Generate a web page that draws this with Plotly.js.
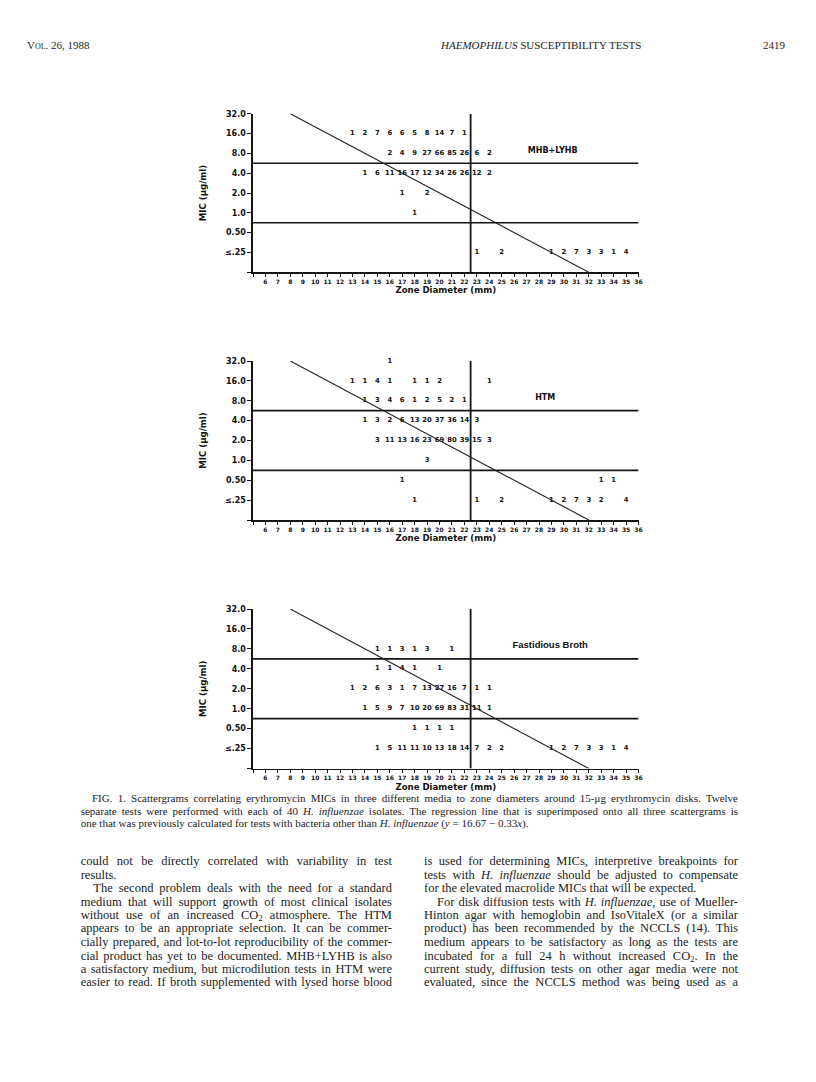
<!DOCTYPE html>
<html><head><meta charset="utf-8">
<script src="https://cdn.plot.ly/plotly-3.0.1.min.js"></script>
<style>
html,body{margin:0;padding:0;background:#fff;}
#page{position:relative;width:816px;height:1082px;overflow:hidden;background:#fff;}
#chart{position:absolute;left:0;top:0;width:816px;height:1082px;}
.ln{position:absolute;white-space:nowrap;font-family:"Liberation Serif","Times New Roman",serif;color:#1c1c1c;transform-origin:0 50%;}
.ln sub{font-size:0.7em;line-height:0;vertical-align:-0.2em;}
</style></head>
<body><div id="page"><div id="chart"></div></div>
<script>
// ---------- DATA ----------
// Zone-diameter axis ticks (mm)
const zoneTicks = [5,6,7,8,9,10,11,12,13,14,15,16,17,18,19,20,21,22,23,24,25,26,27,28,29,30,31,32,33,34,35,36];
const zoneTickText = ['','6','7','8','9','10','11','12','13','14','15','16','17','18','19','20','21','22','23','24','25','26','27','28','29','30','31','32','33','34','35','36'];
// MIC axis ticks (µg/ml)
const micTicks = [0.125,0.25,0.5,1,2,4,8,16,32];
const micTickText = ['','\u2264.25','0.50','1.0','2.0','4.0','8.0','16.0','32.0'];

// Panel 1: MHB+LYHB
const mhbZone  = [13,14,15,16,17,18,19,20,21,22,
                  16,17,18,19,20,21,22,23,24,
                  14,15,16,17,18,19,20,21,22,23,24,
                  17,19,
                  18,
                  23,25,29,30,31,32,33,34,35];
const mhbMic   = [16,16,16,16,16,16,16,16,16,16,
                  8,8,8,8,8,8,8,8,8,
                  4,4,4,4,4,4,4,4,4,4,4,
                  2,2,
                  1,
                  0.25,0.25,0.25,0.25,0.25,0.25,0.25,0.25,0.25];
const mhbCount = [1,2,7,6,6,5,8,14,7,1,
                  2,4,9,27,66,85,26,6,2,
                  1,6,11,16,17,12,34,26,26,12,2,
                  1,2,
                  1,
                  1,2,1,2,7,3,3,1,4];

// Panel 2: HTM
const htmZone  = [16,
                  13,14,15,16,18,19,20,24,
                  14,15,16,17,18,19,20,21,22,
                  14,15,16,17,18,19,20,21,22,23,
                  15,16,17,18,19,20,21,22,23,24,
                  19,
                  17,33,34,
                  18,23,25,29,30,31,32,33,35];
const htmMic   = [32,
                  16,16,16,16,16,16,16,16,
                  8,8,8,8,8,8,8,8,8,
                  4,4,4,4,4,4,4,4,4,4,
                  2,2,2,2,2,2,2,2,2,2,
                  1,
                  0.5,0.5,0.5,
                  0.25,0.25,0.25,0.25,0.25,0.25,0.25,0.25,0.25];
const htmCount = [1,
                  1,1,4,1,1,1,2,1,
                  1,3,4,6,1,2,5,2,1,
                  1,3,2,6,13,20,37,36,14,3,
                  3,11,13,16,23,69,80,39,15,3,
                  3,
                  1,1,1,
                  1,1,2,1,2,7,3,2,4];

// Panel 3: Fastidious Broth
const fbZone  = [15,16,17,18,19,21,
                 15,16,17,18,20,
                 13,14,15,16,17,18,19,20,21,22,23,24,
                 14,15,16,17,18,19,20,21,22,23,24,
                 18,19,20,21,
                 15,16,17,18,19,20,21,22,23,24,25,29,30,31,32,33,34,35];
const fbMic   = [8,8,8,8,8,8,
                 4,4,4,4,4,
                 2,2,2,2,2,2,2,2,2,2,2,2,
                 1,1,1,1,1,1,1,1,1,1,1,
                 0.5,0.5,0.5,0.5,
                 0.25,0.25,0.25,0.25,0.25,0.25,0.25,0.25,0.25,0.25,0.25,0.25,0.25,0.25,0.25,0.25,0.25,0.25];
const fbCount = [1,1,3,1,3,1,
                 1,1,4,1,1,
                 1,2,6,3,1,7,13,27,16,7,1,1,
                 1,5,9,7,10,20,69,83,31,11,1,
                 1,1,1,1,
                 1,5,11,11,10,13,18,14,7,2,2,1,2,7,3,3,1,4];

// Interpretive breakpoints and regression line (same on all panels)
const breakpointMic = [5.66, 0.707];   // lines between 8.0/4.0 and 1.0/0.50
const breakpointZone = [22.5];
const regressionZone = [8, 32];
const regressionMic = [32, 0.125];

const panelNames = ['MHB+LYHB', 'HTM', 'Fastidious Broth'];

// ---------- LAYOUT ----------
const W = 816, H = 1082;
const xLeftPx = 253, xRightPx = 638.5;
const panelPx = [[113.7, 272.3], [361, 520], [609, 768.5]];
const labelPos = [[29.1, 8.7], [28.5, 8.7], [28.9, 9.0]];
const labelFont = [
  {family:'DejaVu Sans', size:8, weight:'bold', color:'#111'},
  {family:'DejaVu Sans', size:8, weight:'bold', color:'#111'},
  {family:'Liberation Sans', size:9.5, weight:'bold', color:'#111'}
];

const panels = [
  {zone: mhbZone, mic: mhbMic, count: mhbCount},
  {zone: htmZone, mic: htmMic, count: htmCount},
  {zone: fbZone, mic: fbMic, count: fbCount}
];

const ink = '#151515';
const traces = [];
const layout = {
  width: W, height: H, margin: {l:0, r:0, t:0, b:0},
  paper_bgcolor: 'rgba(0,0,0,0)', plot_bgcolor: 'rgba(0,0,0,0)',
  showlegend: false
};

panels.forEach((p, i) => {
  const s = i === 0 ? '' : String(i + 1);
  const xa = 'x' + s, ya = 'y' + s;
  // counts
  traces.push({
    type: 'scatter', mode: 'text', x: p.zone, y: p.mic,
    text: p.count.map(String), textposition: 'middle center',
    textfont: {family: 'DejaVu Sans', size: 6.8, weight: 'bold', color: '#111'},
    xaxis: xa, yaxis: ya, hoverinfo: 'skip', cliponaxis: false
  });
  // breakpoint lines
  breakpointMic.forEach(m => traces.push({
    type: 'scatter', mode: 'lines', x: [zoneTicks[0], zoneTicks[zoneTicks.length-1]], y: [m, m],
    line: {color: ink, width: 1.7}, xaxis: xa, yaxis: ya, hoverinfo: 'skip', cliponaxis: false
  }));
  breakpointZone.forEach(z => traces.push({
    type: 'scatter', mode: 'lines', x: [z, z], y: [micTicks[0], micTicks[micTicks.length-1]],
    line: {color: ink, width: 1.8}, xaxis: xa, yaxis: ya, hoverinfo: 'skip', cliponaxis: false
  }));
  // regression line
  traces.push({
    type: 'scatter', mode: 'lines', x: regressionZone, y: regressionMic,
    line: {color: '#222', width: 1.1}, xaxis: xa, yaxis: ya, hoverinfo: 'skip', cliponaxis: false
  });
  // medium label
  traces.push({
    type: 'scatter', mode: 'text', x: [labelPos[i][0]], y: [labelPos[i][1]],
    text: [panelNames[i]], textposition: 'middle center', textfont: labelFont[i],
    xaxis: xa, yaxis: ya, hoverinfo: 'skip', cliponaxis: false
  });

  const [tp, bp] = panelPx[i];
  layout['xaxis' + s] = {
    domain: [xLeftPx / W, xRightPx / W], anchor: ya,
    range: [zoneTicks[0], zoneTicks[zoneTicks.length-1]],
    tickmode: 'array', tickvals: zoneTicks, ticktext: zoneTickText,
    ticks: 'outside', ticklen: 3, tickwidth: 1, tickcolor: ink,
    showline: true, linewidth: 1.6, linecolor: ink,
    showgrid: false, zeroline: false, fixedrange: true,
    tickfont: {family: 'DejaVu Sans', size: 6, weight: 'bold', color: '#111'},
    title: {text: 'Zone Diameter (mm)', standoff: 3,
            font: {family: 'DejaVu Sans', size: 8.6, weight: 'bold', color: '#111'}}
  };
  layout['yaxis' + s] = {
    domain: [1 - bp / H, 1 - tp / H], anchor: xa,
    type: 'log', range: [Math.log10(micTicks[0]), Math.log10(micTicks[micTicks.length-1])],
    tickmode: 'array', tickvals: micTicks, ticktext: micTickText,
    ticks: 'outside', ticklen: 4, tickwidth: 1, tickcolor: ink,
    showline: true, linewidth: 1.6, linecolor: ink,
    showgrid: false, zeroline: false, fixedrange: true,
    tickfont: {family: 'DejaVu Sans', size: 8, weight: 'bold', color: '#111'},
    title: {text: 'MIC (\u03bcg/ml)', standoff: 17,
            font: {family: 'DejaVu Sans', size: 8.6, weight: 'bold', color: '#111'}}
  };
});

Plotly.newPlot('chart', traces, layout, {staticPlot: true, displayModeBar: false});

// ---------- PAGE TEXT ----------
const page = document.getElementById('page');
const textLines = [
  {x:27, y:47, size:11, html:'<span style="font-variant:small-caps">Vol.</span> 26, 1988'},
  {x:441, y:47, size:11, w:286, html:'<i>HAEMOPHILUS</i> SUSCEPTIBILITY TESTS'},
  {x:763, y:47, size:11, html:'2419'},

  {x:92, y:800, size:11, w:646, j:true, html:'FIG. 1. Scattergrams correlating erythromycin MICs in three different media to zone diameters around 15-\u03bcg erythromycin disks. Twelve'},
  {x:80.7, y:812.3, size:11, w:657.3, j:true, html:'separate tests were performed with each of 40 <i>H. influenzae</i> isolates. The regression line that is superimposed onto all three scattergrams is'},
  {x:80.7, y:824.3, size:11, html:'one that was previously calculated for tests with bacteria other than <i>H. influenzae</i> (<i>y</i> = 16.67 \u2212 0.33<i>x</i>).'},

  {x:80.7, y:862.7, size:12.5, w:311.3, j:true, html:'could not be directly correlated with variability in test'},
  {x:80.7, y:876.7, size:12.5, html:'results.'},
  {x:93.3, y:890, size:12.5, w:298.7, j:true, html:'The second problem deals with the need for a standard'},
  {x:80.7, y:903.3, size:12.5, w:311.3, j:true, html:'medium that will support growth of most clinical isolates'},
  {x:80.7, y:917, size:12.5, w:311.3, j:true, html:'without use of an increased CO<sub>2</sub> atmosphere. The HTM'},
  {x:80.7, y:930, size:12.5, w:311.3, j:true, html:'appears to be an appropriate selection. It can be commer-'},
  {x:80.7, y:944, size:12.5, w:311.3, j:true, html:'cially prepared, and lot-to-lot reproducibility of the commer-'},
  {x:80.7, y:957.3, size:12.5, w:311.3, j:true, html:'cial product has yet to be documented. MHB+LYHB is also'},
  {x:80.7, y:970.7, size:12.5, w:311.3, j:true, html:'a satisfactory medium, but microdilution tests in HTM were'},
  {x:80.7, y:984, size:12.5, w:311.3, j:true, html:'easier to read. If broth supplemented with lysed horse blood'},

  {x:424, y:862.7, size:12.5, w:314, j:true, html:'is used for determining MICs, interpretive breakpoints for'},
  {x:424, y:876.7, size:12.5, w:314, j:true, html:'tests with <i>H. influenzae</i> should be adjusted to compensate'},
  {x:424, y:890, size:12.5, html:'for the elevated macrolide MICs that will be expected.'},
  {x:437, y:903.3, size:12.5, w:301, j:true, html:'For disk diffusion tests with <i>H. influenzae</i>, use of Mueller-'},
  {x:424, y:917, size:12.5, w:314, j:true, html:'Hinton agar with hemoglobin and IsoVitaleX (or a similar'},
  {x:424, y:930, size:12.5, w:314, j:true, html:'product) has been recommended by the NCCLS (14). This'},
  {x:424, y:944, size:12.5, w:314, j:true, html:'medium appears to be satisfactory as long as the tests are'},
  {x:424, y:957.3, size:12.5, w:314, j:true, html:'incubated for a full 24 h without increased CO<sub>2</sub>. In the'},
  {x:424, y:970.7, size:12.5, w:314, j:true, html:'current study, diffusion tests on other agar media were not'},
  {x:424, y:984, size:12.5, w:314, j:true, html:'evaluated, since the NCCLS method was being used as a'}
];
textLines.forEach(l => {
  const d = document.createElement('div');
  d.className = 'ln';
  d.innerHTML = l.html;
  d.style.fontSize = l.size + 'px';
  d.style.lineHeight = l.size + 'px';
  d.style.left = l.x + 'px';
  d.style.top = (l.y - l.size * 0.61) + 'px';
  page.appendChild(d);
  if (l.w) {
    const nat = d.getBoundingClientRect().width;
    if (nat > l.w) {
      d.style.transform = 'scaleX(' + (l.w / nat) + ')';
    } else if (l.j) {
      const sp = (d.textContent.match(/ /g) || []).length;
      if (sp) d.style.wordSpacing = ((l.w - nat) / sp) + 'px';
    }
  }
});
</script>
</body></html>
